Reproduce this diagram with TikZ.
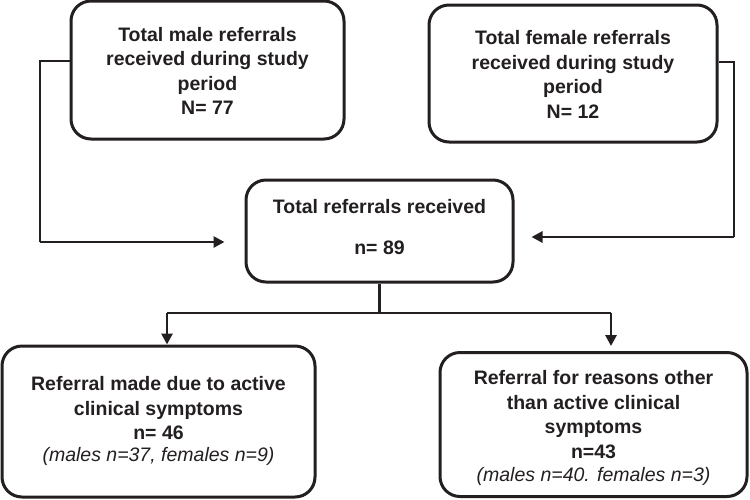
\documentclass[tikz,border=0pt]{standalone}
\usepackage{fontspec}
\setmainfont{Liberation Sans}
\usetikzlibrary{arrows.meta}
\definecolor{ink}{HTML}{231F20}
\begin{document}
\begin{tikzpicture}[x=1pt,y=-1pt,
  box/.style={draw=ink,line width=3pt,rounded corners=20pt,inner sep=0pt},
  txt/.style={align=center,text=ink,font=\fontsize{19.5}{24.5}\selectfont\bfseries,inner sep=0pt},
  conn/.style={draw=ink,line width=2.8pt},
  arr/.style={conn,-{Triangle[length=11pt,width=11pt]}}]
\useasboundingbox (0,0) rectangle (750,499);
\node[box,minimum width=273pt,minimum height=138pt] (tl) at (207.5,70) {};
\node[txt] (tlt) at (207.5,71)
  {Total male referrals\\received during study\\period\\N= 77};
\node[box,minimum width=288pt,minimum height=137pt] (tr) at (573,73.5) {};
\node[txt] (trt) at (573,74.5)
  {Total female referrals\\received during study\\period\\N= 12};
\node[box,minimum width=267pt,minimum height=102pt] (mid) at (379.5,231) {};
\node[txt] (midt) at (379.5,227)
  {Total referrals received\\[17pt]n= 89};
\node[box,minimum width=313pt,minimum height=151pt] (bl) at (158.5,421.5) {};
\node[txt] (blt) at (158.5,421)
  {Referral made due to active\\clinical symptoms\\n= 46\\[-3pt]
   {\mdseries\itshape (males n=37, females n=9)}};
\node[box,minimum width=307pt,minimum height=144pt] (br) at (593.5,424.5) {};
\node[txt] (brt) at (593.5,428)
  {Referral for reasons other\\than active clinical\\symptoms\\n=43\\[-1pt]
   {\mdseries\itshape (males n=40. females n=3)}};
\coordinate (lc) at (40,242);
\coordinate (rc) at (734,237);
\coordinate (split) at (379.5,313);
\coordinate (la) at (167,313);
\coordinate (ra) at (611,313);
\draw[conn] ([yshift=9pt]tl.west) -| (lc);
\draw[arr,shorten >=20pt] (lc) -- (lc -| mid.west);
\draw[conn] ([yshift=11.5pt]tr.east) -| (rc);
\draw[arr,shorten >=17pt] (rc) -- (rc -| mid.east);
\draw[conn] (mid.south) -- (split);
\draw[conn] (la) -- (ra);
\draw[arr] (la) -- (la |- bl.north);
\draw[arr,shorten >=5pt] (ra) -- (ra |- br.north);
\end{tikzpicture}
\end{document}
